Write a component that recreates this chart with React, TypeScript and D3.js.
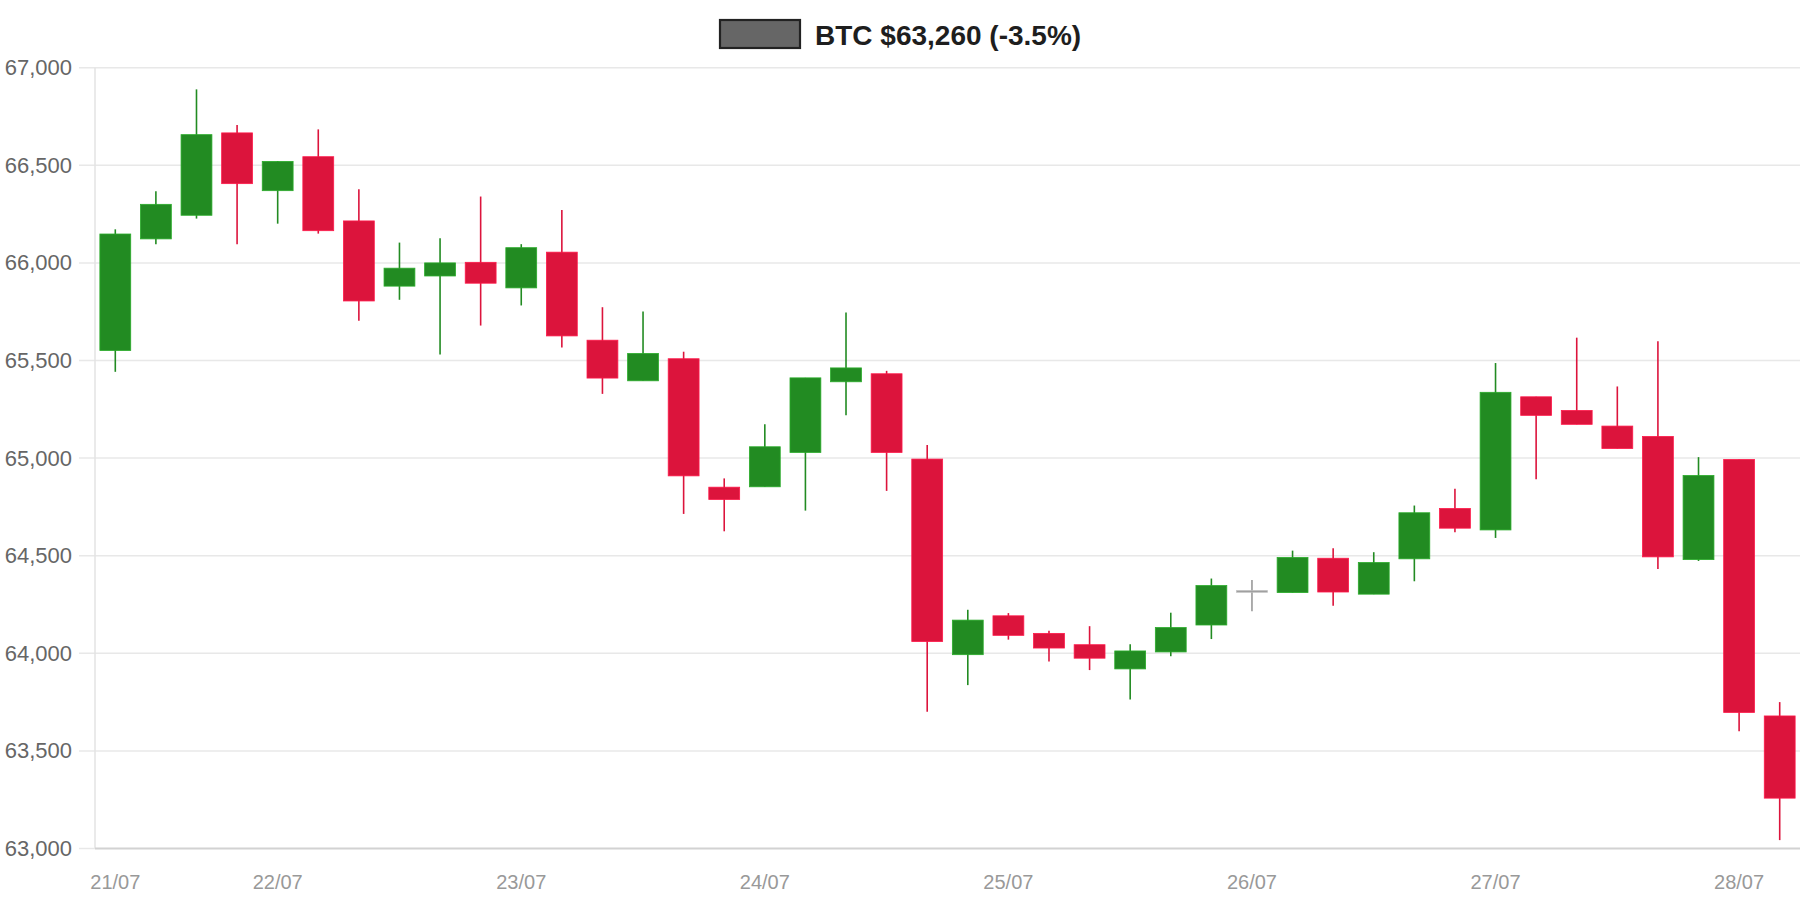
import React, { useEffect, useRef } from "react";
import * as d3 from "d3";

// 4h candles, 21/07 08:00 -> 28/07 04:00
const opens = [
  65551, 66123, 66244, 66666, 66370, 66544, 66215, 65881, 65933, 66003, 65872, 66055,
  65604, 65396, 65509, 64851, 64853, 65029, 65391, 65432, 64995, 63993, 64192, 64102,
  64044, 63920, 64007, 64145, 64321, 64311, 64487, 64303, 64484, 64742, 64632, 65314,
  65244, 65164, 65111, 64480, 64993, 63679,
];
const highs = [
  66172, 66367, 66889, 66706, 66522, 66684, 66377, 66104, 66126, 66340, 66096, 66271,
  65773, 65751, 65545, 64896, 65173, 65411, 65746, 65447, 65067, 64223, 64206, 64115,
  64139, 64046, 64208, 64383, 64376, 64526, 64538, 64518, 64757, 64843, 65487, 65314,
  65617, 65367, 65599, 65005, 64993, 63750,
];
const lows = [
  65442, 66096, 66227, 66096, 66201, 66150, 65703, 65811, 65531, 65679, 65782, 65567,
  65329, 65396, 64714, 64625, 64853, 64731, 65219, 64832, 63700, 63837, 64070, 63958,
  63914, 63763, 63985, 64073, 64215, 64311, 64243, 64303, 64369, 64620, 64591, 64892,
  65173, 65049, 64432, 64473, 63601, 63043,
];
const closes = [
  66148, 66300, 66657, 66406, 66520, 66165, 65805, 65973, 66000, 65896, 66078, 65626,
  65410, 65536, 64909, 64788, 65058, 65411, 65462, 65029, 64060, 64170, 64092, 64027,
  63975, 64012, 64132, 64347, 64321, 64491, 64314, 64465, 64720, 64641, 65337, 65219,
  65173, 65049, 64494, 64911, 63697, 63258,
];

const tickIndex = [0, 4, 10, 16, 22, 28, 34, 40];
const tickLabels = ["21/07", "22/07", "23/07", "24/07", "25/07", "26/07", "27/07", "28/07"];
const yTicks = [63000, 63500, 64000, 64500, 65000, 65500, 66000, 66500, 67000];
const title = "BTC $63,260 (-3.5%)";

const FONT = "'Liberation Sans', Arial, Helvetica, sans-serif";

const CandleChart: React.FC = () => {
  const svgRef = useRef<SVGSVGElement>(null);

  useEffect(() => {
    if (!svgRef.current) return;
    const svg = d3.select(svgRef.current);
    svg.selectAll("*").remove();

    const width = 1800;
    const left = 95;
    const top = 67.7;
    const bottom = 848.5;

    const idx = d3.range(opens.length);
    const x = d3.scaleBand<number>()
      .domain(idx)
      .range([left, 1800])
      .paddingInner(0.24)
      .paddingOuter(0.12);

    const y = d3.scaleLinear().domain([63000, 67000]).range([bottom, top]);

    // Grid
    svg.append("g")
      .selectAll("line")
      .data(yTicks.slice(1))
      .enter().append("line")
      .attr("x1", left - 16)
      .attr("x2", width)
      .attr("y1", d => y(d))
      .attr("y2", d => y(d))
      .attr("stroke", "#e8e8e8")
      .attr("stroke-width", 1.5);

    // left axis line + bottom tick stub
    svg.append("line")
      .attr("x1", left).attr("x2", left)
      .attr("y1", top).attr("y2", bottom)
      .attr("stroke", "#e3e3e3")
      .attr("stroke-width", 1.5);
    svg.append("line")
      .attr("x1", left - 16).attr("x2", left)
      .attr("y1", bottom).attr("y2", bottom)
      .attr("stroke", "#e8e8e8")
      .attr("stroke-width", 1.5);
    svg.append("line")
      .attr("x1", left).attr("x2", width)
      .attr("y1", bottom).attr("y2", bottom)
      .attr("stroke", "#d2d2d2")
      .attr("stroke-width", 2);

    // Y labels
    svg.append("g")
      .selectAll("text")
      .data(yTicks)
      .enter().append("text")
      .attr("x", 72)
      .attr("y", d => y(d))
      .attr("text-anchor", "end")
      .attr("dominant-baseline", "central")
      .attr("font-family", FONT)
      .attr("font-size", 22)
      .attr("fill", "#666")
      .text(d => d3.format(",")(d));

    // X labels
    svg.append("g")
      .selectAll("text")
      .data(tickIndex)
      .enter().append("text")
      .attr("x", d => (x(d) as number) + x.bandwidth() / 2)
      .attr("y", 882)
      .attr("text-anchor", "middle")
      .attr("dominant-baseline", "central")
      .attr("font-family", FONT)
      .attr("font-size", 20)
      .attr("fill", "#999")
      .text((d, i) => tickLabels[i]);

    const colorOf = (i: number) =>
      closes[i] > opens[i] ? "#228B22" : closes[i] < opens[i] ? "#DC143C" : "#999999";

    const candles = svg.append("g");

    // wicks
    candles.selectAll(".wick")
      .data(idx)
      .enter().append("line")
      .attr("class", "wick")
      .attr("x1", i => (x(i) as number) + x.bandwidth() / 2)
      .attr("x2", i => (x(i) as number) + x.bandwidth() / 2)
      .attr("y1", i => y(highs[i]))
      .attr("y2", i => y(lows[i]))
      .attr("stroke", colorOf)
      .attr("stroke-width", 1.6);

    // bodies
    candles.selectAll(".body")
      .data(idx)
      .enter().append("rect")
      .attr("class", "body")
      .attr("x", i => x(i) as number)
      .attr("width", x.bandwidth())
      .attr("y", i => y(Math.max(opens[i], closes[i])))
      .attr("height", i => Math.max(1.6, Math.abs(y(opens[i]) - y(closes[i]))))
      .attr("fill", colorOf)
      .attr("stroke", i => d3.color(colorOf(i))!.brighter(0.6).formatHex())
      .attr("stroke-width", 0.8);

    // Legend / title
    const lg = svg.append("g");
    lg.append("rect")
      .attr("x", 720).attr("y", 20)
      .attr("width", 80).attr("height", 28)
      .attr("fill", "#666666")
      .attr("stroke", "#222")
      .attr("stroke-width", 2.2);
    lg.append("text")
      .attr("x", 815)
      .attr("y", 35)
      .attr("dominant-baseline", "central")
      .attr("font-family", FONT)
      .attr("font-weight", "bold")
      .attr("font-size", 28)
      .attr("fill", "#1e1e1e")
      .text(title);
  }, []);

  return <svg ref={svgRef} width={1800} height={900} style={{ display: "block" }} />;
};

export default function App() {
  return (
    <div style={{ position: "fixed", left: 0, top: 0, width: 1800, height: 900, background: "#fff", overflow: "hidden" }}>
      <CandleChart />
    </div>
  );
}
